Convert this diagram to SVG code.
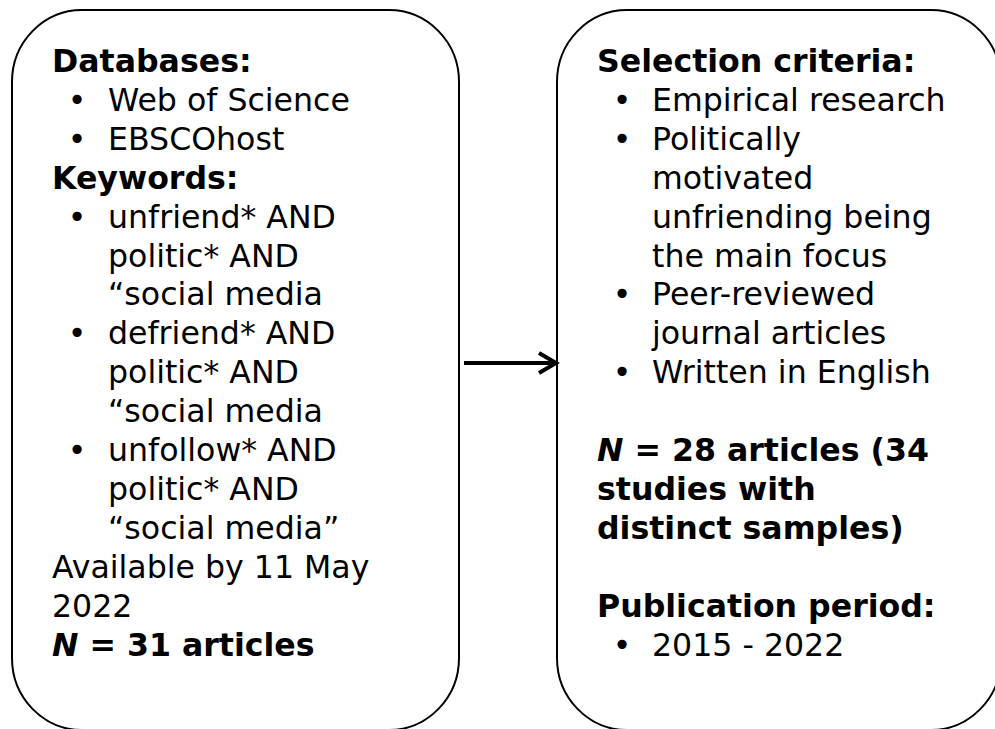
<svg xmlns="http://www.w3.org/2000/svg" width="995" height="729" viewBox="0 0 995 729">
<style>
.box{fill:#fff;stroke:#000;stroke-width:2}
text{font-family:"DejaVu Sans",Verdana,sans-serif;font-size:31.6px;fill:#000}
.b{font-weight:bold}
.conn{stroke:#000;stroke-width:4;fill:none}
</style>
<rect width="995" height="729" fill="#fff"/>
<g id="node-search">
<rect class="box" x="12" y="10" width="447" height="720" rx="70" ry="72"/>
<text class="b" x="52" y="72">Databases:</text>
<text x="67.7" y="110.9">•</text><text x="108" y="110.9">Web of Science</text>
<text x="67.7" y="149.8">•</text><text x="108" y="149.8">EBSCOhost</text>
<text class="b" x="52" y="188.7">Keywords:</text>
<text x="67.7" y="227.6">•</text><text x="108" y="227.6">unfriend* AND</text>
<text x="108" y="266.5">politic* AND</text>
<text x="108" y="305.4">“social media</text>
<text x="67.7" y="344.3">•</text><text x="108" y="344.3">defriend* AND</text>
<text x="108" y="383.2">politic* AND</text>
<text x="108" y="422.1">“social media</text>
<text x="67.7" y="461">•</text><text x="108" y="461">unfollow* AND</text>
<text x="108" y="499.9">politic* AND</text>
<text x="108" y="538.8">“social media”</text>
<text x="52" y="577.7">Available by 11 May</text>
<text x="52" y="616.6">2022</text>
<text class="b" x="52" y="655.5"><tspan font-style="italic">N</tspan> = 31 articles</text>
</g>
<g id="node-selection">
<rect class="box" x="557" y="10" width="444" height="720" rx="70" ry="72"/>
<text class="b" x="597" y="72">Selection criteria:</text>
<text x="612.7" y="110.9">•</text><text x="652" y="110.9">Empirical research</text>
<text x="612.7" y="149.8">•</text><text x="652" y="149.8">Politically</text>
<text x="652" y="188.7">motivated</text>
<text x="652" y="227.6">unfriending being</text>
<text x="652" y="266.5">the main focus</text>
<text x="612.7" y="305.4">•</text><text x="652" y="305.4">Peer-reviewed</text>
<text x="652" y="344.3">journal articles</text>
<text x="612.7" y="383.2">•</text><text x="652" y="383.2">Written in English</text>
<text class="b" x="597" y="461"><tspan font-style="italic">N</tspan> = 28 articles (34</text>
<text class="b" x="597" y="499.9">studies with</text>
<text class="b" x="597" y="538.8">distinct samples)</text>
<text class="b" x="597" y="616.6">Publication period:</text>
<text x="612.7" y="655.5">•</text><text x="652" y="655.5">2015 - 2022</text>
</g>
<g id="connectors">
<line class="conn" x1="464" y1="363" x2="556" y2="363"/>
<polyline class="conn" points="539,353 556,363 539,373"/>
</g>
</svg>
